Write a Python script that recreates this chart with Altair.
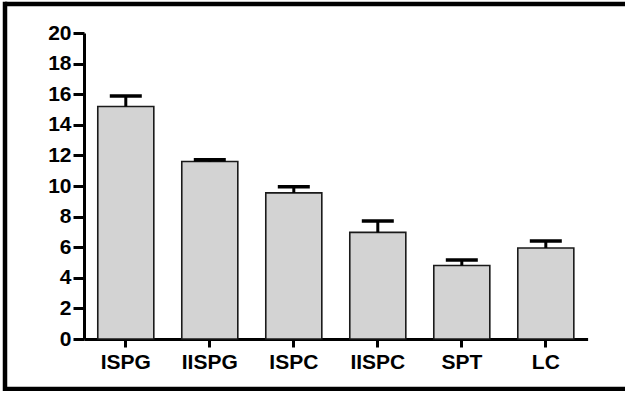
import altair as alt
import pandas as pd

categories = ["ISPG", "IISPG", "ISPC", "IISPC", "SPT", "LC"]
means = [15.2, 11.6, 9.55, 6.97, 4.8, 5.95]
errors = [0.68, 0.11, 0.4, 0.74, 0.37, 0.46]
y_ticks = [0, 2, 4, 6, 8, 10, 12, 14, 16, 18, 20]

df = pd.DataFrame({"cat": categories, "mean": means, "err": errors})
df["upper"] = df["mean"] + df["err"]

FONT = "Liberation Sans"
VIEW_H = 385
VIEW_W = 620

xscale = alt.Scale(domain=categories, range=[79, 582.6], paddingInner=0.333, paddingOuter=0.164)
yscale = alt.Scale(domain=[0, 20], range=[335, 29], nice=False, zero=True)

xaxis = alt.Axis(title=None, labelAngle=0, offset=335 - VIEW_H, domainWidth=3, domainColor="black",
                 tickWidth=3, tickColor="black", tickSize=8, labelPadding=4,
                 labelFont=FONT, labelFontSize=21, labelFontWeight="bold", labelColor="black",
                 labelOverlap=False, grid=False)
yaxis = alt.Axis(title=None, offset=-79, values=y_ticks, tickCount=11, domainWidth=3, domainColor="black",
                 tickWidth=3, tickColor="black", tickSize=11, labelPadding=2,
                 labelFont=FONT, labelFontSize=21, labelFontWeight="bold", labelColor="black",
                 labelOverlap=False, labelBound=False, grid=False)

base = alt.Chart(df)

bars = base.mark_bar(color="#d3d3d3", stroke="#1a1a1a", strokeWidth=1.6).encode(
    x=alt.X("cat:N", scale=xscale, axis=xaxis, sort=categories),
    y=alt.Y("mean:Q", scale=yscale, axis=yaxis),
)

stems = base.mark_rule(color="black", strokeWidth=3).encode(
    x=alt.X("cat:N", scale=xscale, axis=xaxis, sort=categories),
    y=alt.Y("mean:Q", scale=yscale, axis=yaxis),
    y2="upper:Q",
)

caps = base.mark_tick(color="black", thickness=3.5, size=32, opacity=1).encode(
    x=alt.X("cat:N", scale=xscale, axis=xaxis, sort=categories),
    y=alt.Y("upper:Q", scale=yscale, axis=yaxis),
)

# decorative outer frame: left, top and bottom edges (the right edge lies off the page)
one = pd.DataFrame({"f": [0]})
frame_left = alt.Chart(one).mark_rule(color="black", strokeWidth=4.5).encode(
    x=alt.value(0), y=alt.value(-2.25), y2=alt.value(VIEW_H + 2.25)
)
frame_top = alt.Chart(one).mark_rule(color="black", strokeWidth=4.5).encode(
    x=alt.value(0), x2=alt.value(VIEW_W + 20), y=alt.value(0)
)
frame_bottom = alt.Chart(one).mark_rule(color="black", strokeWidth=4.5).encode(
    x=alt.value(0), x2=alt.value(VIEW_W + 20), y=alt.value(VIEW_H)
)

chart = alt.layer(bars, stems, caps, frame_left, frame_top, frame_bottom).properties(
    width=VIEW_W,
    height=VIEW_H,
    autosize=alt.AutoSizeParams(type="none"),
    padding={"left": 5, "top": 4, "right": 0, "bottom": 2},
    background="white",
).configure_view(stroke="transparent", strokeWidth=0)

chart.save("out.html", embed_options={"renderer": "svg", "actions": False})
